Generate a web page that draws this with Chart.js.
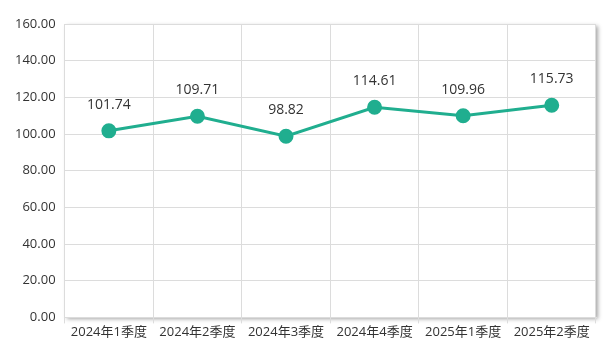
<!DOCTYPE html>
<html>
<head>
<meta charset="utf-8">
<script src="https://cdn.jsdelivr.net/npm/chart.js@4/dist/chart.umd.min.js"></script>
<style>
    html, body { margin: 0; padding: 0; background: #fff; }
    #wrap { width: 614px; height: 353px; }
</style>
</head>
<body>
<div id="wrap"><canvas id="chart"></canvas></div>
<script>
const quarters = ['2024年1季度', '2024年2季度', '2024年3季度', '2024年4季度', '2025年1季度', '2025年2季度'];
const values = [101.74, 109.71, 98.82, 114.61, 109.96, 115.73];
const yTicks = { min: 0, max: 160, step: 20 };

const lineColor = '#20ae8f';
const textColor = '#333';
const fontFamily = '"Open Sans", "Noto Sans CJK SC", sans-serif';

// shadow behind the plot area
const areaShadow = {
    id: 'areaShadow',
    beforeDraw(chart) {
        const { ctx, chartArea: a } = chart;
        ctx.save();
        ctx.shadowColor = 'rgba(0,0,0,0.35)';
        ctx.shadowBlur = 4;
        ctx.shadowOffsetX = 2;
        ctx.shadowOffsetY = 2;
        ctx.fillStyle = '#fff';
        ctx.fillRect(a.left, a.top, a.right - a.left, a.bottom - a.top);
        ctx.restore();
    }
};

// value labels above points
const valueLabels = {
    id: 'valueLabels',
    afterDatasetsDraw(chart) {
        const ctx = chart.ctx;
        const meta = chart.getDatasetMeta(0);
        ctx.save();
        ctx.font = '14px ' + fontFamily;
        ctx.fillStyle = textColor;
        ctx.textAlign = 'center';
        ctx.textBaseline = 'middle';
        meta.data.forEach((pt, i) => {
            ctx.fillText(values[i].toFixed(2), pt.x, pt.y - 26);
        });
        ctx.restore();
    }
};

new Chart(document.getElementById('chart'), {
    type: 'line',
    data: {
        labels: quarters,
        datasets: [{
            data: values,
            borderColor: lineColor,
            backgroundColor: lineColor,
            borderWidth: 3,
            pointRadius: 6,
            pointHoverRadius: 6,
            tension: 0
        }]
    },
    options: {
        responsive: true,
        maintainAspectRatio: false,
        animation: false,
        layout: { padding: { top: 24, right: 18, left: 6, bottom: 12 } },
        plugins: {
            legend: { display: false },
            tooltip: { enabled: false }
        },
        scales: {
            x: {
                offset: true,
                grid: { offset: true, color: '#dcdcdc', tickLength: 6 },
                border: { color: '#dcdcdc' },
                ticks: {
                    color: textColor,
                    padding: 1,
                    maxRotation: 0,
                    font: { size: 13, family: fontFamily }
                }
            },
            y: {
                min: yTicks.min,
                max: yTicks.max,
                grid: { color: '#dcdcdc', drawTicks: false },
                border: { display: false },
                ticks: {
                    stepSize: yTicks.step,
                    color: textColor,
                    padding: 9,
                    font: { size: 13, family: fontFamily },
                    callback: (v) => v.toFixed(2)
                }
            }
        }
    },
    plugins: [areaShadow, valueLabels]
});
</script>
</body>
</html>
